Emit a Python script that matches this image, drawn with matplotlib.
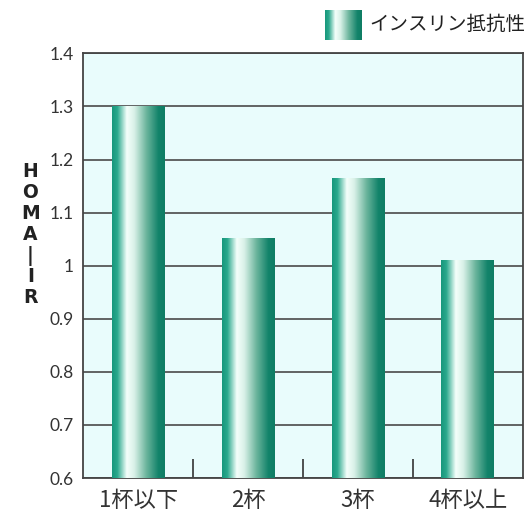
import numpy as np
import matplotlib.pyplot as plt
from matplotlib.colors import LinearSegmentedColormap

plt.rcParams['font.family'] = ['Noto Sans CJK JP', 'DejaVu Sans']

categories = ['1杯以下', '2杯', '3杯', '4杯以上']
homa_ir = [1.30, 1.052, 1.165, 1.01]
yticks = [0.6, 0.7, 0.8, 0.9, 1.0, 1.1, 1.2, 1.3, 1.4]
ytick_labels = ['0.6', '0.7', '0.8', '0.9', '1', '1.1', '1.2', '1.3', '1.4']
legend_label = 'インスリン抵抗性'

# teal -> white -> teal, horizontal across each bar
grad = LinearSegmentedColormap.from_list('bar', [
    (0.0, '#17977c'), (0.1, '#2aa88c'), (0.28, '#f4fffb'), (0.42, '#d9f1e8'),
    (0.65, '#6cb59d'), (0.88, '#12836a'), (1.0, '#0f7d64')])
strip = np.linspace(0, 1, 256).reshape(1, -1)

fig = plt.figure(figsize=(5.26, 5.16), dpi=100, facecolor='white')
ax = fig.add_axes([0.158, 0.0736, 0.836, 0.823])
ax.set_facecolor('#e9fcfc')

x = np.arange(len(categories))
bars = ax.bar(x, np.array(homa_ir) - 0.6, bottom=0.6, width=0.48,
              color='none', zorder=3)
for b in bars:
    x0, y0 = b.get_x(), b.get_y()
    im = ax.imshow(strip, cmap=grad, aspect='auto', zorder=3,
                   extent=[x0, x0 + b.get_width(), y0, y0 + b.get_height()])
    im.set_clip_path(b)

ax.set_xlim(-0.5, 3.5)
ax.set_ylim(0.6, 1.4)
ax.set_yticks(yticks)
ax.set_yticklabels(ytick_labels, fontsize=12.5, color='#333333',
                   family=['Lato', 'DejaVu Sans'])
ax.tick_params(axis='y', length=0, pad=7)
ax.grid(axis='y', color='#4a4a4a', linewidth=1.2, zorder=1)
ax.set_axisbelow(True)

ax.set_xticks(x)
ax.set_xticklabels(categories, fontsize=16, color='#333333')
ax.tick_params(axis='x', length=0, pad=8)
ax.set_xticks([0.5, 1.5, 2.5], minor=True)
ax.tick_params(axis='x', which='minor', direction='in', length=14,
               width=1.2, color='#333333')

for s in ax.spines.values():
    s.set_color('#444444')
    s.set_linewidth(1.3)

fig.text(0.058, 0.545, 'H\nO\nM\nA\n|\nI\nR', ha='center', va='center',
         fontsize=13.5, fontweight='bold', color='#222222',
         linespacing=1.12, family=['DejaVu Sans'])

# legend
lax = fig.add_axes([0.618, 0.923, 0.07, 0.058])
lax.imshow(strip, cmap=grad, aspect='auto')
lax.set_axis_off()
fig.text(0.703, 0.952, legend_label, fontsize=14, color='#222222',
         va='center', ha='left')

fig.savefig('out.png', dpi=100, facecolor=fig.get_facecolor())
